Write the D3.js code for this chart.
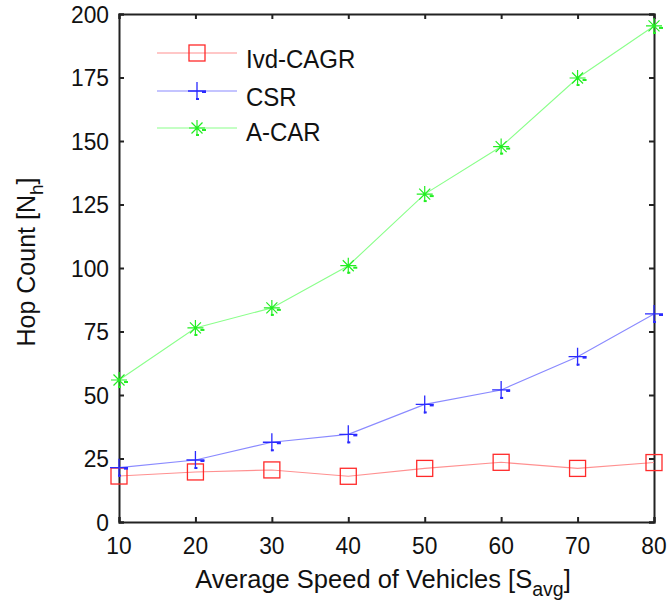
<!DOCTYPE html>
<html><head><meta charset="utf-8">
<script src="https://cdn.jsdelivr.net/npm/d3@7"></script>
<style>body{margin:0;background:#fff;} svg{display:block;font-family:"Liberation Sans",Arial,Helvetica,sans-serif;}</style>
</head><body>
<svg id="c" width="668" height="605"></svg>
<script>
const speeds = [10, 20, 30, 40, 50, 60, 70, 80];
const ivdCagr = [18.1, 19.7, 20.5, 18.0, 21.1, 23.5, 21.1, 23.4];
const csr = [21.4, 24.4, 31.4, 34.5, 46.3, 52.0, 65.1, 81.9];
const acar = [55.9, 76.4, 84.3, 100.9, 129.1, 147.8, 174.8, 195.3];
const xTicks = [10, 20, 30, 40, 50, 60, 70, 80];
const yTicks = [0, 25, 50, 75, 100, 125, 150, 175, 200];
const seriesNames = ["Ivd-CAGR", "CSR", "A-CAR"];

const L = 119, R = 654, T = 14, B = 522;
const svg = d3.select("#c");
const x = d3.scaleLinear().domain([10, 80]).range([L, R]);
const y = d3.scaleLinear().domain([0, 200]).range([B, T]);

const series = [
  {name: seriesNames[0], values: ivdCagr, line: "#ff9090", mark: "#ff2a2a", type: "square"},
  {name: seriesNames[1], values: csr, line: "#8a8aff", mark: "#2a2aff", type: "plus"},
  {name: seriesNames[2], values: acar, line: "#8aff8a", mark: "#22ee22", type: "star"}
];

// axes (tick marks only; labels drawn below)
const axisColor = "#222";
const gx = svg.append("g").attr("transform", `translate(0,${B})`)
  .call(d3.axisBottom(x).tickValues(xTicks).tickSize(-5).tickFormat(""));
const gxt = svg.append("g").attr("transform", `translate(0,${T})`)
  .call(d3.axisTop(x).tickValues(xTicks).tickSize(-5).tickFormat(""));
const gy = svg.append("g").attr("transform", `translate(${L},0)`)
  .call(d3.axisLeft(y).tickValues(yTicks).tickSize(-5).tickFormat(""));
const gyr = svg.append("g").attr("transform", `translate(${R},0)`)
  .call(d3.axisRight(y).tickValues(yTicks).tickSize(-5).tickFormat(""));
[gx, gxt, gy, gyr].forEach(g => {
  g.select(".domain").attr("stroke", axisColor).attr("stroke-width", 2);
  g.selectAll(".tick line").attr("stroke", axisColor).attr("stroke-width", 2);
});

const TF = 24, TSX = 0.95;
svg.append("g").selectAll("text").data(xTicks).join("text")
  .attr("transform", d => `translate(${x(d)},554) scale(${TSX},1)`)
  .attr("text-anchor", "middle").attr("font-size", TF).attr("fill", "#111").text(d => d);
svg.append("g").selectAll("text").data(yTicks).join("text")
  .attr("transform", d => `translate(109,${y(d)}) scale(${TSX},1)`)
  .attr("text-anchor", "end").attr("dy", "0.36em").attr("font-size", TF).attr("fill", "#111").text(d => d);

// marker drawing
function drawMarker(g, type, color, cx, cy) {
  if (type === "square") {
    g.append("rect").attr("x", cx - 8).attr("y", cy - 8).attr("width", 16).attr("height", 16)
      .attr("fill", "none").attr("stroke", color).attr("stroke-width", 1.3);
  } else if (type === "plus") {
    g.append("path").attr("d", `M${cx-9},${cy}H${cx+9}M${cx},${cy-9}V${cy+9}`)
      .attr("stroke", color).attr("stroke-width", 1.3).attr("fill", "none");
    g.append("rect").attr("x", cx + 5).attr("y", cy).attr("width", 4).attr("height", 2).attr("fill", color);
    g.append("rect").attr("x", cx - 1).attr("y", cy + 7).attr("width", 3).attr("height", 2).attr("fill", color);
  } else {
    const r = 8, rd = 5.5;
    g.append("path").attr("d",
      `M${cx-r},${cy}H${cx+r}M${cx},${cy-r}V${cy+r}M${cx-rd},${cy-rd}L${cx+rd},${cy+rd}M${cx-rd},${cy+rd}L${cx+rd},${cy-rd}`)
      .attr("stroke", color).attr("stroke-width", 1.2).attr("fill", "none");
    g.append("rect").attr("x", cx + 5).attr("y", cy + 1).attr("width", 4).attr("height", 2).attr("fill", color);
    g.append("rect").attr("x", cx - 1).attr("y", cy + 6).attr("width", 3).attr("height", 2).attr("fill", color);
  }
}

const line = d3.line().x((d, i) => x(speeds[i])).y(d => y(d));
series.forEach(s => {
  svg.append("path").datum(s.values).attr("d", line).attr("fill", "none")
    .attr("stroke", s.line).attr("stroke-width", 1.1);
  const g = svg.append("g");
  s.values.forEach((v, i) => drawMarker(g, s.type, s.mark, x(speeds[i]), y(v)));
});

// legend
const legY = [53, 91, 128];
const legBase = [68, 106, 141];
series.forEach((s, i) => {
  const ly = legY[i];
  svg.append("line").attr("x1", 157).attr("x2", 237).attr("y1", ly).attr("y2", ly)
    .attr("stroke", s.line).attr("stroke-width", 1.1);
  drawMarker(svg.append("g"), s.type, s.mark, 197, ly);
  svg.append("text").attr("transform", `translate(246,${legBase[i]}) scale(0.96,1)`)
    .attr("font-size", 25).attr("fill", "#111").text(s.name);
});

// axis titles
const xt = svg.append("text").attr("x", 383).attr("y", 588).attr("text-anchor", "middle")
  .attr("font-size", 25.5).attr("fill", "#111");
xt.append("tspan").text("Average Speed of Vehicles [S");
xt.append("tspan").attr("font-size", 19.5).attr("dy", 8).text("avg");
xt.append("tspan").attr("dy", -8).text("]");

const yt = svg.append("text").attr("transform", "translate(35,262) rotate(-90)")
  .attr("text-anchor", "middle").attr("font-size", 25).attr("fill", "#111");
yt.append("tspan").text("Hop Count [N");
yt.append("tspan").attr("font-size", 19).attr("dy", 8).text("h");
yt.append("tspan").attr("dy", -8).text("]");
</script>
</body></html>
